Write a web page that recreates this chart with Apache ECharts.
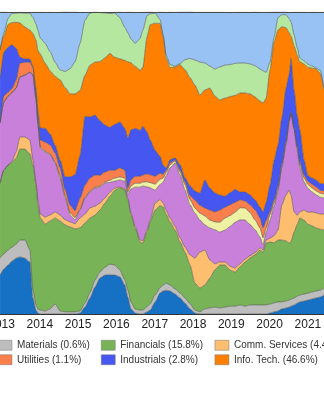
<!DOCTYPE html>
<html>
<head>
<meta charset="utf-8">
<script src="https://cdn.jsdelivr.net/npm/echarts@6/dist/echarts.min.js"></script>
<style>html,body{margin:0;padding:0;background:#fff;}#chart{width:324px;height:400px;}</style>
</head>
<body>
<div id="chart"></div>
<script>
// x positions in decimal years
var years = [2012.96,2013.06,2013.17,2013.27,2013.38,2013.48,2013.61,2013.74,2013.82,2013.90,2013.95,2014.01,2014.14,2014.27,2014.40,2014.53,2014.66,2014.79,2014.92,2015.05,2015.18,2015.31,2015.44,2015.57,2015.70,2015.83,2015.96,2016.09,2016.22,2016.30,2016.38,2016.49,2016.62,2016.69,2016.80,2016.88,2017.01,2017.14,2017.22,2017.30,2017.40,2017.53,2017.66,2017.79,2017.92,2018.05,2018.18,2018.31,2018.44,2018.57,2018.70,2018.84,2018.97,2019.10,2019.23,2019.36,2019.49,2019.62,2019.75,2019.83,2019.91,2020.01,2020.12,2020.22,2020.32,2020.43,2020.51,2020.56,2020.64,2020.72,2020.79,2020.90,2021.00,2021.11,2021.21,2021.32,2021.42];
var axisStartYear = 2012;
var axisEndYear = 2022;

// shares (%), bottom to top
var energy = [12.9,14.9,16.2,17.5,18.5,18.9,18.5,17.2,5.3,1.3,0.3,0,0,0,0,0,0,0,0,0.3,2.3,5.3,8.9,11.9,12.9,12.9,12.9,12.3,9.6,5.6,1.7,0.3,0,0,0.7,1.3,4.0,7.0,7.6,7.9,7.6,6.6,5.3,3.6,1.7,0.3,0,0,0,0,0,0,0,0,0,0,0,0,0,0,0,0.3,0.7,1.0,1.7,2.0,2.3,2.6,3.0,3.6,4.0,4.3,4.6,5.0,5.3,5.6,6.3];
var materials = [5.6,5.0,5.0,4.6,4.6,5.6,6.0,4.0,2.6,1.7,1.3,1.3,1.0,1.7,3.3,1.0,0.7,0.7,0.7,0.7,1.3,1.7,2.3,2.0,2.6,3.6,3.3,2.3,1.7,2.3,2.3,1.3,1.3,1.3,1.7,2.0,2.3,1.7,2.0,2.3,2.0,1.7,1.7,1.7,1.7,1.0,0.7,1.7,2.0,2.3,2.0,2.3,2.6,2.6,3.0,2.6,3.0,3.0,3.0,3.0,3.0,3.0,3.0,3.0,2.3,2.3,2.3,2.3,2.3,2.3,2.3,2.3,2.3,2.3,2.3,2.3,2.3];
var financials = [24.8,27.8,28.1,28.1,28.5,30.1,30.1,31.8,41.4,39.7,34.4,30.5,28.8,29.1,28.5,29.8,28.8,28.1,27.5,27.5,26.5,24.8,21.5,20.5,21.2,22.5,24.8,27.2,29.8,29.8,28.8,26.8,22.5,22.2,24.8,27.2,28.1,27.2,25.8,22.8,20.9,19.5,16.9,15.2,12.9,8.9,7.9,7.9,9.9,12.3,14.2,13.9,11.9,11.3,12.6,14.6,15.6,16.6,18.2,17.5,20.5,20.5,19.9,20.5,20.5,19.9,18.9,19.2,21.9,23.8,25.5,24.5,22.8,21.9,20.9,20.2,19.2];
var commServices = [0,0,0,0.3,2.0,4.0,4.0,4.6,1.7,1.0,1.7,1.3,2.3,2.0,2.0,2.0,1.7,1.7,1.7,3.3,3.0,3.3,3.0,2.3,1.7,1.3,0.7,0.3,0.3,0.7,0.7,0.7,0.7,0.7,0.7,0.7,2.3,2.0,1.3,1.3,1.3,1.3,1.3,1.7,3.3,8.3,11.9,11.6,6.0,2.0,1.0,1.0,1.3,1.3,1.0,1.0,0.7,0.7,0.7,0.7,1.0,1.3,2.3,3.3,11.6,15.2,17.5,15.2,6.6,3.0,2.0,3.3,4.0,4.6,5.0,5.0,5.3];
var healthCare = [19.9,22.5,22.8,22.8,21.2,19.9,20.5,22.5,28.1,27.2,24.8,21.9,21.5,19.9,16.2,12.3,7.3,2.3,1.3,2.6,5.3,5.3,6.0,5.3,5.0,3.3,2.3,2.3,2.6,1.3,7.9,12.9,17.5,18.2,14.2,10.6,4.3,5.0,7.0,11.6,16.6,20.9,20.9,18.9,16.6,14.9,10.6,8.3,10.6,11.3,9.9,10.6,13.2,15.2,14.6,12.9,10.3,7.6,3.6,1.7,2.6,6.0,9.9,13.2,12.3,16.6,22.5,27.2,27.2,21.5,14.6,9.3,7.9,6.6,6.0,5.6,5.3];
var consStaples = [0,0,0,0,0,0,0,0,0,0.3,0.3,0.3,0.3,0.3,0.3,0.7,0.7,0.7,0.7,0.3,0.3,0.3,0.3,0.3,0.3,0.7,1.0,1.0,1.0,0.7,1.0,1.3,1.3,1.3,1.7,1.7,2.0,1.7,1.3,1.0,1.0,0.7,1.0,1.7,1.7,1.7,2.3,3.0,2.6,2.6,3.3,4.0,3.6,3.3,4.0,4.0,4.0,3.3,3.0,2.3,1.3,1.7,1.0,0.7,0.7,0.7,0.3,0,0.3,0.7,1.0,1.3,1.3,1.3,1.3,1.3,1.3];
var utilities = [0.3,2.0,1.3,1.3,2.6,4.6,4.3,3.3,2.6,1.3,2.0,2.3,3.0,3.0,3.0,2.6,2.0,2.6,2.3,3.6,4.0,4.3,4.0,3.6,3.3,3.3,2.6,3.0,2.6,1.3,2.0,2.3,2.3,2.3,2.6,2.6,2.6,2.0,1.3,0.7,0.7,0.3,0.7,1.0,1.3,2.6,2.6,2.6,3.3,3.3,4.0,3.6,3.6,3.3,2.6,2.3,2.6,3.3,3.3,3.3,2.6,1.0,1.0,0.7,0.7,0.7,0.3,0.3,0.3,0.7,1.0,1.0,1.0,1.3,1.3,1.0,1.0];
var industrials = [14.6,14.6,14.9,14.6,10.6,2.0,1.0,1.0,0.3,2.3,2.6,4.0,4.6,3.6,2.6,2.6,4.3,9.3,11.9,14.2,22.8,20.2,19.9,18.2,15.6,14.2,15.2,15.2,13.9,16.6,16.6,15.9,15.2,16.2,13.9,11.6,8.6,5.6,3.0,0.7,1.0,0.7,1.7,1.3,3.3,3.0,4.0,9.3,7.3,6.3,5.0,3.6,4.0,4.3,2.6,3.0,3.3,3.3,3.6,5.3,6.0,8.9,13.2,13.6,15.2,17.5,15.2,17.9,12.6,10.3,10.6,5.0,2.0,2.0,2.3,2.3,2.3];
var infoTech = [9.3,5.3,7.6,7.3,8.6,11.3,10.6,9.6,10.9,15.9,19.9,24.5,21.5,20.9,22.8,26.5,29.5,27.5,26.8,21.5,13.6,17.2,17.5,19.5,22.2,24.5,22.2,20.9,22.5,25.2,22.2,20.5,19.9,19.5,31.5,38.1,42.1,44.0,42.4,36.4,30.5,30.1,33.1,35.8,35.8,35.1,32.5,29.8,33.1,32.1,31.5,32.5,31.8,31.1,32.8,32.8,33.4,34.1,35.1,36.1,34.4,38.1,39.1,38.1,30.1,19.9,13.9,7.3,14.6,19.9,22.5,31.8,35.8,36.4,36.8,36.4,31.1];
var consDiscr = [0,1.0,2.0,3.0,3.0,3.3,4.6,5.6,5.3,5.3,6.6,5.3,6.6,6.3,4.6,3.3,5.3,8.3,10.6,15.6,18.2,17.2,16.6,16.2,14.9,13.2,14.6,13.6,10.9,9.6,7.9,7.6,10.6,12.3,7.0,3.6,3.3,1.3,0.7,1.0,1.0,0.3,0.3,3.3,6.3,8.3,10.9,8.9,7.3,8.9,10.9,10.9,10.6,10.6,9.9,9.9,9.9,10.3,10.6,10.6,8.6,2.6,1.7,4.0,4.0,4.3,4.6,4.6,3.6,2.3,1.3,1.0,1.0,0.7,0.3,1.0,0.7];
var realEstate = [12.6,7.0,2.0,0.3,0.3,0.3,0.3,0.3,1.7,4.0,6.0,8.6,10.3,13.2,16.6,19.2,19.9,18.9,16.6,10.3,2.6,0.3,0,0,0.3,0.3,0.3,2.0,5.0,7.0,8.9,10.3,8.6,6.0,1.3,0.7,0.3,2.6,7.6,14.2,17.5,17.9,17.2,15.9,15.6,15.9,16.6,16.9,17.9,18.9,18.2,17.5,17.2,16.9,16.9,16.9,17.2,17.9,18.9,19.5,19.9,16.6,8.3,2.0,1.0,1.0,2.0,3.3,7.6,11.9,15.2,16.2,17.2,17.9,18.5,19.2,25.2];

var seriesNames = ['Energy','Materials (0.6%)','Financials (15.8%)','Comm. Services (4.4%)','Health Care','Cons. Staples','Utilities (1.1%)','Industrials (2.8%)','Info. Tech. (46.6%)','Cons. Discr.','Real Estate'];
var seriesValues = [energy,materials,financials,commServices,healthCare,consStaples,utilities,industrials,infoTech,consDiscr,realEstate];
var seriesColors = ['#1670c4','#bdbdbd','#78b357','#fdbf6f','#c980da','#eef0a3','#fa7f4c','#4656f1','#ff7f00','#b6e7a0','#98c2f4'];

var legendCols = [
  ['Materials (0.6%)','Utilities (1.1%)'],
  ['Financials (15.8%)','Industrials (2.8%)'],
  ['Comm. Services (4.4%)','Info. Tech. (46.6%)']
];
var legendLefts = [-2.3, 101, 214.7];

// decimal year -> timestamp (unit conversion only)
function yearToTime(y) {
  var yi = Math.floor(y);
  var a = Date.UTC(yi, 0, 1), b = Date.UTC(yi + 1, 0, 1);
  return a + (y - yi) * (b - a);
}

var chart = echarts.init(document.getElementById('chart'), null, {renderer:'canvas'});

var series = seriesNames.map(function(name, i){
  return {
    name: name,
    type: 'line',
    stack: 'total',
    symbol: 'none',
    smooth: 0.2,
    smoothMonotone: 'x',
    data: years.map(function(y, j){ return [yearToTime(y), seriesValues[i][j]]; }),
    itemStyle: {color: seriesColors[i]},
    lineStyle: {color: '#555', width: 0.7, opacity: 0.85},
    areaStyle: {color: seriesColors[i], opacity: 1},
    emphasis: {disabled: true},
    silent: true
  };
});

var legends = legendCols.map(function(col, i){
  return {
    orient: 'vertical',
    left: legendLefts[i],
    top: 340,
    padding: 0,
    itemWidth: 14,
    itemHeight: 10,
    itemGap: 4,
    icon: 'rect',
    selectedMode: false,
    data: col,
    itemStyle: {borderColor: '#777', borderWidth: 0.5},
    textStyle: {fontSize: 10, color: '#333', fontFamily: 'Liberation Sans, Arial, sans-serif', lineHeight: 10}
  };
});

var YEAR_MS = 365.25 * 24 * 3600 * 1000;
var axisCommon = {
  type: 'time',
  min: Date.UTC(axisStartYear, 0, 1),
  max: Date.UTC(axisEndYear, 0, 1),
  minInterval: YEAR_MS * 0.99,
  maxInterval: YEAR_MS * 1.01,
  splitLine: {show: false},
  axisTick: {show: false},
  z: 10
};

chart.setOption({
  animation: false,
  grid: {left: -36.8, right: -22.2, top: 12, bottom: 86, outerBoundsMode: 'none', containLabel: false},
  legend: legends,
  xAxis: [
    Object.assign({}, axisCommon, {
      position: 'bottom',
      axisLine: {show: true, onZero: false, lineStyle: {color: '#333', width: 1}},
      axisLabel: {show: true, margin: 5, fontSize: 12, color: '#222', fontFamily: 'Liberation Sans, Arial, sans-serif',
        formatter: function(v){ return String(new Date(v).getUTCFullYear()); }}
    }),
    Object.assign({}, axisCommon, {
      position: 'top',
      axisLine: {show: true, onZero: false, lineStyle: {color: '#4a4a4a', width: 1}},
      axisLabel: {show: false}
    })
  ],
  yAxis: {type: 'value', min: 0, max: 100, show: false},
  series: series
});
</script>
</body>
</html>
